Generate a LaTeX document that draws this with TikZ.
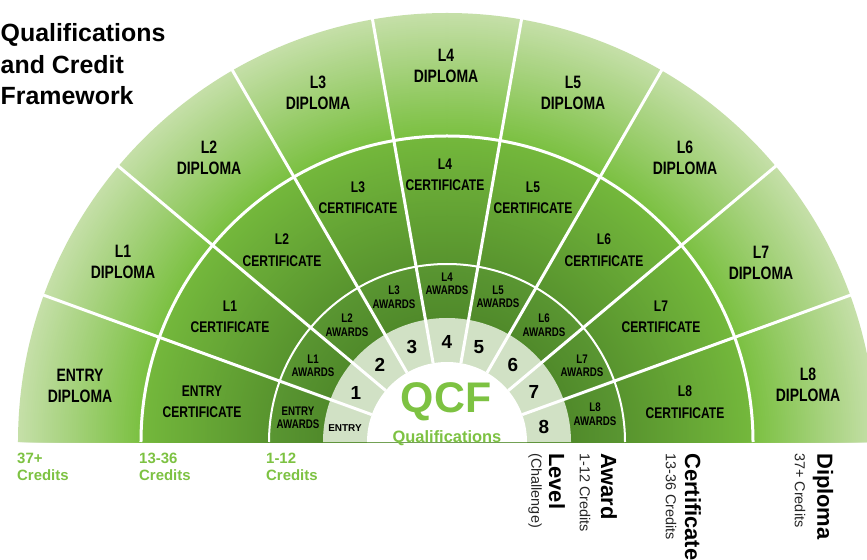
\documentclass[tikz,border=0pt]{standalone}
\usepackage{fontspec}
\setmainfont{Liberation Sans}
\newfontfamily\condfont[FakeStretch=0.78]{Liberation Sans}
\definecolor{dipout}{RGB}{197,223,168}
\definecolor{dipin}{RGB}{122,192,64}
\definecolor{certout}{RGB}{116,184,60}
\definecolor{certin}{RGB}{88,148,46}
\definecolor{awdout}{RGB}{90,150,50}
\definecolor{awdin}{RGB}{80,138,42}
\definecolor{lvlfill}{RGB}{209,225,197}
\definecolor{qgreen}{RGB}{125,194,66}
\tikzset{
  sepline/.style={white, line width=3bp},
  diplabel/.style={font=\condfont\bfseries\fontsize{18}{21}\selectfont, align=center, inner sep=0},
  certlabel/.style={font=\condfont\bfseries\fontsize{15.5}{21.5}\selectfont, align=center, inner sep=0},
  awdlabel/.style={font=\condfont\bfseries\fontsize{12.5}{13.5}\selectfont, align=center, inner sep=0},
  lvllabel/.style={font=\bfseries\fontsize{19}{19}\selectfont, inner sep=0},
  creditlabel/.style={font=\bfseries\fontsize{15}{17}\selectfont, text=qgreen, align=left, anchor=north west, inner sep=0},
  keybold/.style={font=\bfseries\fontsize{22}{22}\selectfont, rotate=-90, anchor=west, inner sep=0},
  keyreg/.style={font=\fontsize{14.5}{14.5}\selectfont, text=black!85, rotate=-90, anchor=west, inner sep=0},
  titlelabel/.style={font=\bfseries\fontsize{25}{31.5}\selectfont, align=left, anchor=north west, inner sep=0}
}
\begin{document}
\begin{tikzpicture}[x=1bp,y=-1bp]
\useasboundingbox (0,0) rectangle (867,560);
\clip (0,0) rectangle (867,560);
\fill[white] (0,0) rectangle (867,560);
% ---- fan ----
\begin{scope}[shift={(447,442)}, y=1bp]
  \foreach \r in {429,427,...,307}{
    \pgfmathsetmacro\p{(\r-306)/123*100}
    \fill[dipout!\p!dipin] (\r,0) arc[start angle=0,end angle=180,radius=\r bp] -- cycle;
  }
  \foreach \r in {306,304,...,180}{
    \pgfmathsetmacro\p{(\r-178)/128*100}
    \fill[certout!\p!certin] (\r,0) arc[start angle=0,end angle=180,radius=\r bp] -- cycle;
  }
  \foreach \r in {178,176,...,126}{
    \pgfmathsetmacro\p{(\r-124)/54*100}
    \fill[awdout!\p!awdin] (\r,0) arc[start angle=0,end angle=180,radius=\r bp] -- cycle;
  }
  \fill[lvlfill] (124,0) arc[start angle=0,end angle=180,radius=124bp] -- cycle;
  \fill[white] (80,0) arc[start angle=0,end angle=180,radius=80bp] -- cycle;
  \draw[sepline] (306,0) arc[start angle=0,end angle=180,radius=306bp];
  \draw[sepline, line width=2bp] (178,0) arc[start angle=0,end angle=180,radius=178bp];
  \foreach \a in {20,40,...,160} \draw[sepline] (\a:80) -- (\a:435);
\end{scope}
% ---- ring labels ----
\foreach \t/\x/\y [count=\i from 0] in {ENTRY/80/386, L1/123/262, L2/209/157.5, L3/318/93, L4/446/65.5, L5/573/93, L6/685/157.5, L7/761/263, L8/808/385}
  \node[diplabel] (d\i) at (\x,\y) {\t\\DIPLOMA};
\foreach \t/\x/\y [count=\i from 0] in {ENTRY/202/402, L1/230/317, L2/282/250, L3/358/197.5, L4/445/175, L5/533/197.5, L6/604/250, L7/661/317, L8/685/402}
  \node[certlabel] (c\i) at (\x,\y) {\t\\CERTIFICATE};
\foreach \t/\x/\y [count=\i from 0] in {ENTRY/298/418, L1/313/366, L2/347/325, L3/394/297, L4/447/284, L5/498/297, L6/544/325, L7/582/366, L8/595/414}
  \node[awdlabel] (a\i) at (\x,\y) {\t\\AWARDS};
\node[font=\bfseries\fontsize{10}{10}\selectfont, inner sep=0] (n0) at (345,428) {ENTRY};
\foreach \t/\x/\y in {1/356/393, 2/380/365, 3/412/347, 4/447/342, 5/479/347, 6/513/365, 7/534/392, 8/544/427}
  \node[lvllabel] (n\t) at (\x,\y) {\t};
% ---- centre ----
\node[font=\bfseries\fontsize{43}{43}\selectfont, text=qgreen, inner sep=0] (qcf) at (446,402) {QCF};
\node[font=\bfseries\fontsize{16.5}{16.5}\selectfont, text=qgreen, inner sep=0] (qual) at (447,438) {Qualifications};
% ---- title ----
\node[titlelabel] (title) at (0.5,23.7) {Qualifications\\and Credit\\Framework};
% ---- credits (left) ----
\node[creditlabel] (cr1) at (17,453) {37+\\Credits};
\node[creditlabel] (cr2) at (139,453) {13-36\\Credits};
\node[creditlabel] (cr3) at (266,453) {1-12\\Credits};
% ---- key (right) ----
\node[keyreg] (k1) at (535,453) {(Challenge)};
\node[keybold] (k2) at (557,453) {Level};
\node[keyreg] (k3) at (585,453) {1-12 Credits};
\node[keybold] (k4) at (609,453) {Award};
\node[keyreg] (k5) at (671,453) {13-36 Credits};
\node[keybold] (k6) at (693,453) {Certificate};
\node[keyreg] (k7) at (800,453) {37+ Credits};
\node[keybold] (k8) at (823,453) {Diploma};
\end{tikzpicture}
\end{document}
